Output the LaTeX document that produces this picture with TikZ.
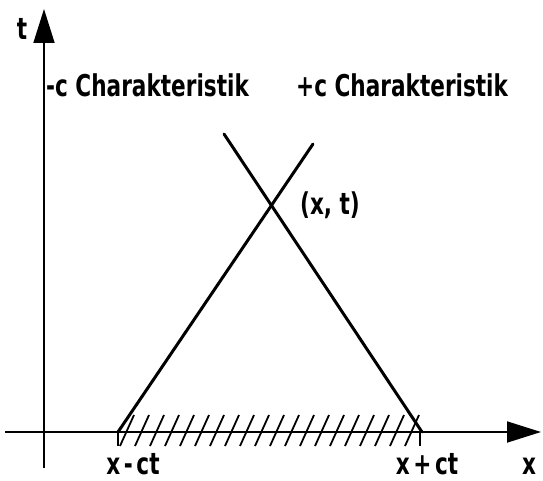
\documentclass[tikz,border=0pt]{standalone}
\usepackage{fontspec}
\usepackage{graphicx}
\newfontfamily\dinfont{DejaVu Sans}
\usetikzlibrary{arrows.meta}
\tikzset{
  axis/.style={line width=1.8pt, -{Triangle[length=34pt,width=21pt]}},
  charline/.style={line width=3pt, line cap=round},
  hatchline/.style={line width=1.8pt},
  lbl/.style={inner sep=0pt, font=\dinfont\bfseries\fontsize{30}{34}\selectfont},
}
\newcommand{\narrow}[1]{\scalebox{0.72}[1]{#1}}
\begin{document}
\begin{tikzpicture}[x=1pt,y=-1pt]
\useasboundingbox (0,0) rectangle (543,481);
% axes
\coordinate (xs) at (5,432);
\coordinate (xe) at (541,432);
\coordinate (ys) at (44,468);
\coordinate (ye) at (44,9);
\draw[axis] (xs) -- (xe);
\draw[axis] (ys) -- (ye);
% characteristics
\coordinate (A) at (118,432);
\coordinate (B) at (313,144);
\coordinate (C) at (224,134);
\coordinate (D) at (422,432);
\draw[charline] (A) -- (B);
\draw[charline] (C) -- (D);
% hatched domain
\coordinate (L) at (118,446);
\coordinate (R) at (420,446);
\draw[line width=2pt] (A) -- (L);
\draw[line width=2pt] (420,432) -- (R);
\begin{scope}
\clip (118,412) rectangle (420,448);
\foreach \i in {0,...,20} {
  \draw[hatchline] ({120+15*\i},446) -- ({134+15*\i},415);
}
\end{scope}
% labels
\node[lbl, anchor=base] (tl) at (22,40) {\narrow{t}};
\node[lbl, anchor=base] (xl) at (529,474) {\narrow{x}};
\node[lbl, anchor=base] (xm) at (133,474) {\narrow{x\,-\,ct}};
\node[lbl, anchor=base] (xp) at (427,474) {\narrow{x\,+\,ct}};
\node[lbl] (P) at (330,205) {\narrow{(x, t)}};
\node[lbl, anchor=base west] (cm) at (46,97) {\narrow{-c Charakteristik}};
\node[lbl, anchor=base west] (cp) at (296,97) {\narrow{+c Charakteristik}};
\end{tikzpicture}
\end{document}
